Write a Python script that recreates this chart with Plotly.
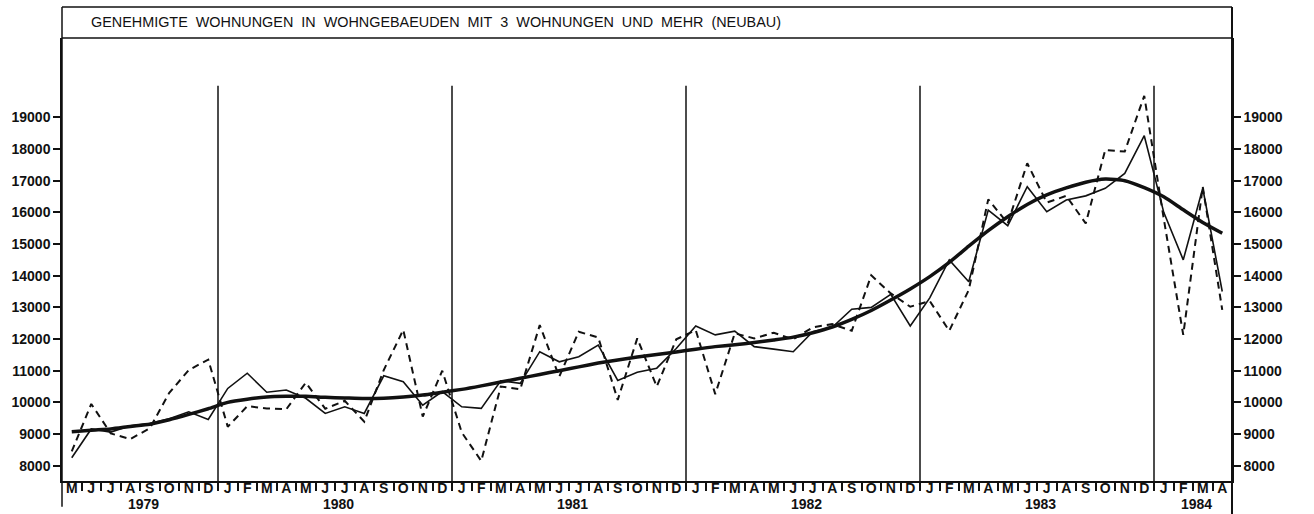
import plotly.graph_objects as go

# Monthly series, May 1979 - April 1984
month_letters = (["M", "J", "J", "A", "S", "O", "N", "D"]
                 + ["J", "F", "M", "A", "M", "J", "J", "A", "S", "O", "N", "D"] * 4
                 + ["J", "F", "M", "A"])
years = [1979, 1980, 1981, 1982, 1983, 1984]
months_in_year = [8, 12, 12, 12, 12, 4]

original = [8450, 9950, 9020, 8840, 9180, 10300, 11020, 11350,
            9230, 9880, 9810, 9780, 10620, 9800, 10050, 9390, 11020, 12290, 9550, 11000,
            9050, 8150, 10500, 10410, 12440, 10810, 12230, 12050, 10080, 12020, 10500, 11990,
            12280, 10260, 12180, 12020, 12200, 11990, 12370, 12470, 12260, 14010, 13440, 13020,
            13200, 12260, 13550, 16410, 15650, 17550, 16310, 16520, 15650, 17970, 17920, 19680,
            15800, 12130, 16810, 12920]

adjusted = [8250, 9160, 9060, 9260, 9330, 9480, 9700, 9460,
            10440, 10920, 10320, 10390, 10130, 9650, 9860, 9650, 10840, 10650, 9910, 10340,
            9860, 9810, 10680, 10600, 11600, 11280, 11440, 11810, 10690, 10950, 11080, 11700,
            12410, 12130, 12250, 11760, 11680, 11600, 12230, 12370, 12940, 13000, 13410, 12410,
            13300, 14500, 13810, 16070, 15580, 16810, 16020, 16390, 16520, 16760, 17230, 18420,
            16000, 14500, 16760, 13500]

trend = [9070, 9120, 9160, 9240, 9310, 9450, 9620, 9800,
         10000, 10100, 10170, 10190, 10190, 10160, 10140, 10120, 10130, 10170, 10230, 10320,
         10410, 10520, 10640, 10760, 10880, 11000, 11120, 11240, 11340, 11430, 11510, 11590,
         11680, 11760, 11820, 11890, 11970, 12060, 12200, 12380, 12620, 12900, 13230, 13580,
         13970, 14420, 14930, 15420, 15860, 16250, 16550, 16770, 16950, 17050, 17000, 16780,
         16490, 16080, 15680, 15340]

y_ticks = list(range(8000, 20000, 1000))
title_text = "GENEHMIGTE WOHNUNGEN IN WOHNGEBAEUDEN MIT 3 WOHNUNGEN UND MEHR (NEUBAU)"

n = len(month_letters)
idx = list(range(n))
y_range = [7517, 21505]
ink = "#111111"
tick_font = dict(family="Liberation Sans", size=14, color=ink)

fig = go.Figure()
fig.add_trace(go.Scatter(x=idx, y=original, mode="lines",
                         line=dict(color=ink, width=2, dash="7px,5px"),
                         showlegend=False, hoverinfo="skip"))
fig.add_trace(go.Scatter(x=idx, y=adjusted, mode="lines",
                         line=dict(color=ink, width=1.6),
                         showlegend=False, hoverinfo="skip"))
fig.add_trace(go.Scatter(x=idx, y=trend, mode="lines",
                         line=dict(color=ink, width=3.5, shape="spline", smoothing=0.6),
                         showlegend=False, hoverinfo="skip"))
# invisible companion trace for the right-hand value axis
fig.add_trace(go.Scatter(x=[idx[0]], y=[trend[0]], yaxis="y2", mode="markers",
                         marker=dict(opacity=0), showlegend=False, hoverinfo="skip"))

shapes = []
# year dividers at each December/January boundary
pos = 0
for cnt in months_in_year[:-1]:
    pos += cnt
    shapes.append(dict(type="line", xref="x", yref="y", x0=pos - 0.5, x1=pos - 0.5,
                       y0=y_range[0], y1=20000, line=dict(color=ink, width=1.5)))

# outer frame and header box
shapes += [
    dict(type="line", xref="paper", yref="paper", x0=0, x1=0, y0=-0.058, y1=1.07,
         line=dict(color=ink, width=1.5)),
    dict(type="line", xref="paper", yref="paper", x0=1, x1=1, y0=-0.08, y1=1.07,
         line=dict(color=ink, width=2)),
    dict(type="line", xref="paper", yref="paper", x0=0, x1=1, y0=1.07, y1=1.07,
         line=dict(color=ink, width=1.5)),
    dict(type="line", xref="paper", yref="paper", x0=0, x1=1, y0=1.0, y1=1.0,
         line=dict(color=ink, width=1.5)),
]

annotations = [dict(text=title_text.replace(" ", "\u00a0\u00a0"), xref="paper", yref="paper",
                    x=0.0235, y=1.036, xanchor="left", yanchor="middle", showarrow=False,
                    font=dict(family="Liberation Sans", size=14.4, color=ink))]
start = 0
for yr, cnt in zip(years, months_in_year):
    centre = start + (cnt - 1) / 2 + 0.2
    annotations.append(dict(text=f"<b>{yr}</b>", xref="x", yref="paper", x=centre, y=-0.051,
                            xanchor="center", yanchor="middle", showarrow=False,
                            font=dict(family="Liberation Sans", size=14, color=ink)))
    start += cnt

axis_common = dict(range=y_range, tickmode="array", tickvals=y_ticks,
                   ticktext=[f"<b>{v}</b>" for v in y_ticks], ticks="outside", ticklen=7,
                   tickwidth=1.5, tickcolor=ink, showgrid=False, zeroline=False,
                   showline=True, linecolor=ink, linewidth=1.5, tickfont=tick_font)

fig.update_layout(
    width=1314, height=514,
    margin=dict(l=60, r=82, t=38, b=33, pad=0),
    paper_bgcolor="white", plot_bgcolor="white",
    xaxis=dict(range=[-0.5, n - 0.5], tickmode="array", tickvals=idx,
               ticktext=[f"<b>{m}</b>" for m in month_letters], ticks="", showgrid=False,
               zeroline=False, showline=True, linecolor=ink, linewidth=2,
               tickfont=dict(family="Liberation Sans", size=14, color=ink), tickangle=0,
               ticklabelstandoff=-7,
               minor=dict(tickmode="array", tickvals=[i + 0.5 for i in idx[:-1]],
                          ticks="outside", ticklen=8, tickwidth=1.5, tickcolor=ink)),
    yaxis=axis_common,
    yaxis2=dict(axis_common, overlaying="y", side="right"),
    shapes=shapes,
    annotations=annotations,
)

fig.write_html("out.html")
